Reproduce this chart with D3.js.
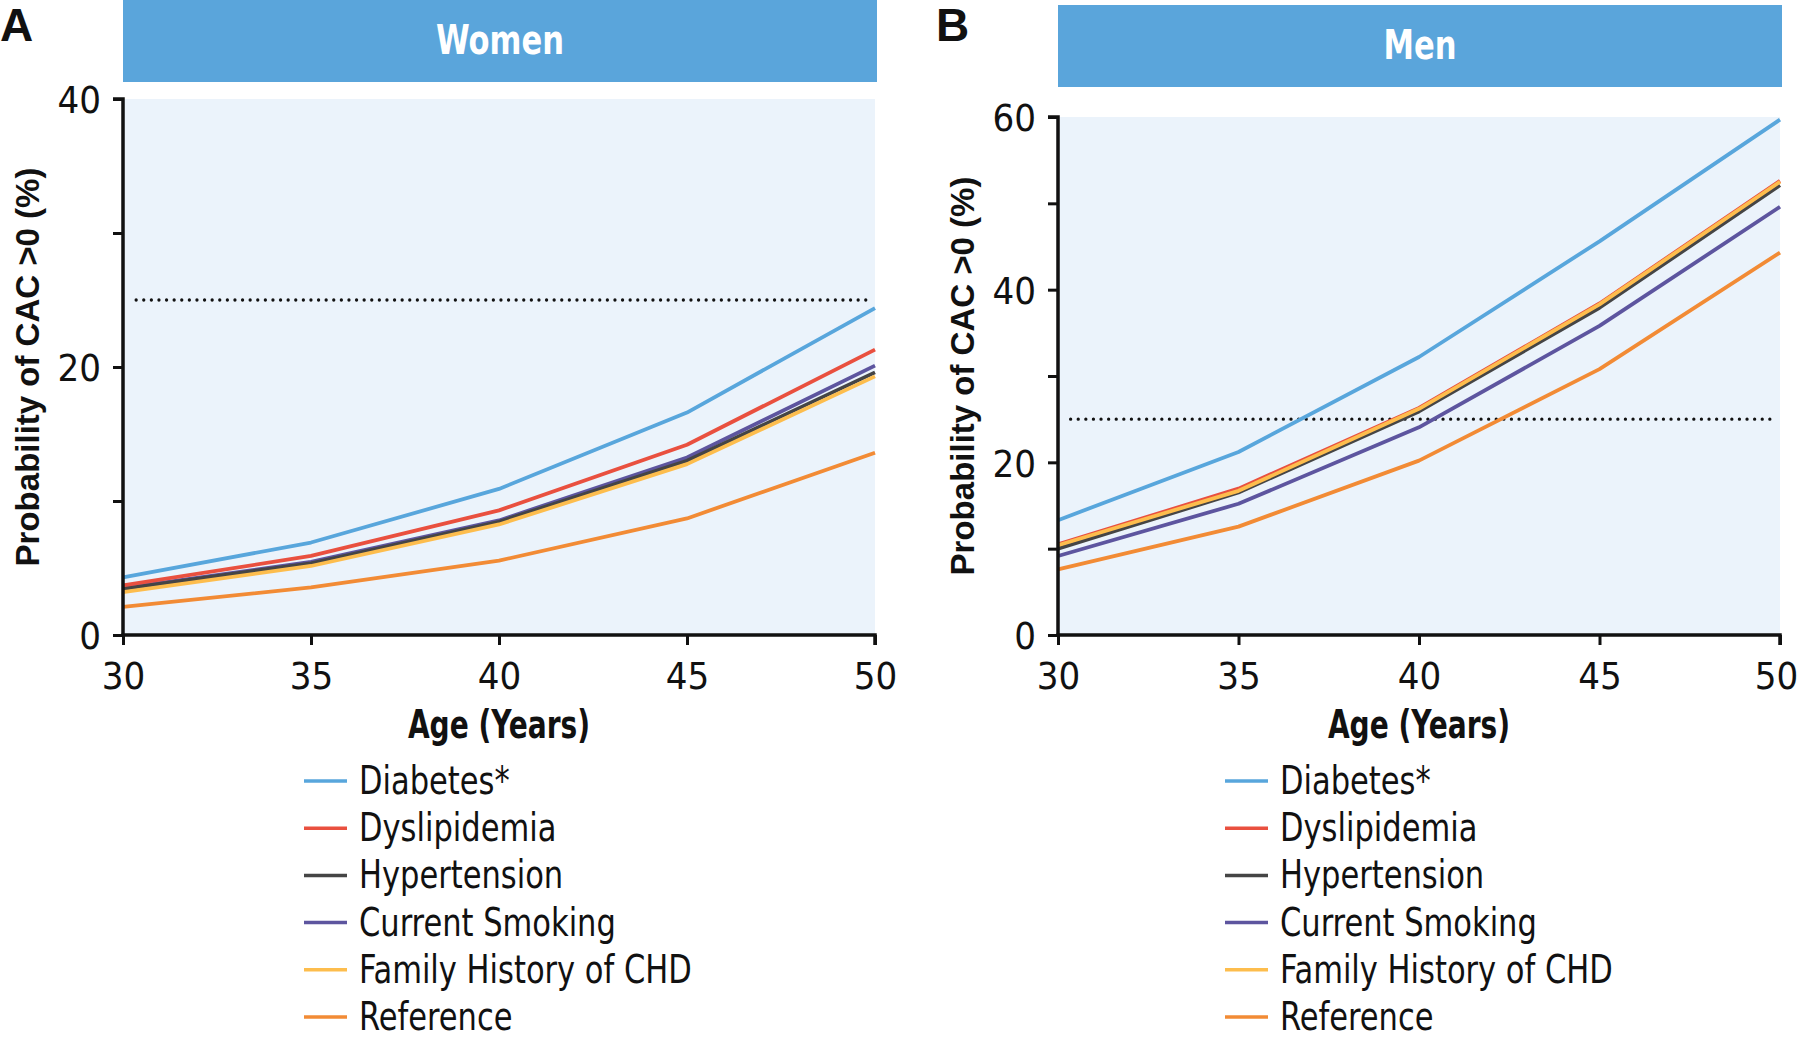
<!DOCTYPE html>
<html><head><meta charset="utf-8">
<script src="https://cdn.jsdelivr.net/npm/d3@7"></script>
<style>
html,body{margin:0;padding:0;background:#fff;}
svg{display:block;}
.cond{font-family:"DejaVu Sans Condensed","DejaVu Sans",sans-serif;font-stretch:condensed;}
</style></head>
<body>
<svg id="chart" width="1800" height="1042"></svg>
<script>
const ages = [30, 35, 40, 45, 50];
const seriesNames = ["Diabetes*", "Dyslipidemia", "Hypertension", "Current Smoking", "Family History of CHD", "Reference"];
const seriesColors = ["#58a6dc", "#e9503f", "#454545", "#5d559f", "#fdbd4d", "#f28b35"];

const womenDiabetes     = [4.3, 6.9, 10.9, 16.6, 24.4];
const womenDyslipidemia = [3.7, 5.9, 9.3, 14.2, 21.3];
const womenHypertension = [3.45, 5.35, 8.45, 13.0, 19.6];
const womenSmoking      = [3.5, 5.45, 8.55, 13.25, 20.1];
const womenFamily       = [3.2, 5.15, 8.25, 12.75, 19.3];
const womenReference    = [2.1, 3.55, 5.55, 8.7, 13.6];

const menDiabetes     = [13.3, 21.2, 32.2, 45.6, 59.7];
const menDyslipidemia = [10.5, 16.95, 26.3, 38.4, 52.6];
const menHypertension = [10.0, 16.5, 25.9, 37.9, 52.1];
const menSmoking      = [9.15, 15.2, 24.05, 35.8, 49.6];
const menFamily       = [10.4, 16.7, 26.2, 38.3, 52.5];
const menReference    = [7.6, 12.55, 20.2, 30.8, 44.3];

const womenTicks = [0, 10, 20, 30, 40];
const womenTickLabels = ["0", "", "20", "", "40"];
const menTicks = [0, 10, 20, 30, 40, 50, 60];
const menTickLabels = ["0", "", "20", "", "40", "", "60"];
const xTicks = [30, 35, 40, 45, 50];
const threshold = 25;

const svg = d3.select("#chart");

const panels = [
  {letter:"A", title:"Women", left:123, right:875, top:99, bottom:635, ymax:40,
   barX0:123, barX1:877, barY0:0, barY1:82, letterX:0, letterY:41,
   ticks:womenTicks, tickLabels:womenTickLabels,
   data:[womenDiabetes, womenDyslipidemia, womenHypertension, womenSmoking, womenFamily, womenReference],
   legendX:304},
  {letter:"B", title:"Men", left:1058, right:1780, top:117, bottom:635, ymax:60,
   barX0:1058, barX1:1782, barY0:5, barY1:87, letterX:936, letterY:41,
   ticks:menTicks, tickLabels:menTickLabels,
   data:[menDiabetes, menDyslipidemia, menHypertension, menSmoking, menFamily, menReference],
   legendX:1225}
];

// draw order (bottom to top)
const drawOrder = [5, 3, 2, 1, 4, 0];

function squeezedText(parent, x, y, str, size, sx, anchor, weight) {
  const g = parent.append("g").attr("transform", `translate(${x},${y}) scale(${sx},1)`);
  return g.append("text").attr("class", "cond").attr("x", 0).attr("y", 0)
    .attr("text-anchor", anchor).attr("font-weight", weight).attr("font-size", size)
    .attr("fill", "#111").text(str);
}

panels.forEach(p => {
  const g = svg.append("g");
  const x = d3.scaleLinear().domain([30, 50]).range([p.left, p.right]);
  const y = d3.scaleLinear().domain([0, p.ymax]).range([p.bottom, p.top]);

  // panel letter
  g.append("text").attr("x", p.letterX).attr("y", p.letterY)
    .attr("font-family", "Liberation Sans, Arial, sans-serif").attr("font-weight", "bold")
    .attr("font-size", 46).attr("fill", "#111").text(p.letter);

  // title bar
  g.append("rect").attr("x", p.barX0).attr("y", p.barY0)
    .attr("width", p.barX1 - p.barX0).attr("height", p.barY1 - p.barY0).attr("fill", "#5aa5db");
  squeezedText(g, (p.barX0 + p.barX1) / 2, (p.barY0 + p.barY1) / 2 + 13, p.title, 40, 0.85, "middle", "bold")
    .attr("fill", "#fff");

  // plot background
  g.append("rect").attr("x", p.left).attr("y", p.top)
    .attr("width", p.right - p.left).attr("height", p.bottom - p.top).attr("fill", "#ebf3fb");

  // threshold dotted line
  g.append("line").attr("x1", x(30.35)).attr("x2", x(49.8)).attr("y1", y(threshold)).attr("y2", y(threshold))
    .attr("stroke", "#111").attr("stroke-width", 3.3).attr("stroke-dasharray", "0,7.6")
    .attr("stroke-linecap", "round");

  // lines
  const line = d3.line().x((d, i) => x(ages[i])).y(d => y(d));
  drawOrder.forEach(k => {
    g.append("path").datum(p.data[k]).attr("d", line).attr("fill", "none")
      .attr("stroke", seriesColors[k]).attr("stroke-width", 3.8).attr("stroke-linejoin", "round");
  });

  // y axis
  const yAxis = d3.axisLeft(y).tickValues(p.ticks).tickSize(10).tickPadding(12)
    .tickFormat((d, i) => p.tickLabels[i]);
  const ya = g.append("g").attr("transform", `translate(${p.left},0)`).call(yAxis);
  ya.select(".domain").attr("stroke", "#111").attr("stroke-width", 3.5).attr("d", `M-10,${p.top}H0V${p.bottom + 1.5}`);
  ya.selectAll(".tick line").attr("stroke", "#111").attr("stroke-width", 3);
  ya.selectAll(".tick text").attr("class", "cond").attr("font-size", 38).attr("fill", "#111")
    .attr("dy", "0.36em");

  // x axis
  const xAxis = d3.axisBottom(x).tickValues(xTicks).tickSize(10).tickPadding(17).tickFormat(d3.format("d"));
  const xa = g.append("g").attr("transform", `translate(0,${p.bottom})`).call(xAxis);
  xa.select(".domain").attr("stroke", "#111").attr("stroke-width", 3.5).attr("d", `M${p.left - 1.5},0H${p.right}V10`);
  xa.selectAll(".tick line").attr("stroke", "#111").attr("stroke-width", 3);
  xa.selectAll(".tick text").attr("class", "cond").attr("font-size", 38).attr("fill", "#111")
    .attr("dx", d => (d === 50 && p.right > 1750) ? -4 : 0);

  // axis titles
  squeezedText(g, (p.left + p.right) / 2, 738, "Age (Years)", 39, 0.8, "middle", "bold");
  g.append("text").attr("transform", `translate(${p.left - 84},${(p.top + p.bottom) / 2}) rotate(-90)`)
    .attr("text-anchor", "middle").attr("font-family", "Liberation Sans, Arial, sans-serif")
    .attr("font-weight", "bold").attr("font-size", 33).attr("fill", "#111")
    .text("Probability of CAC >0 (%)");

  // legend
  const lg = g.append("g");
  seriesNames.forEach((name, i) => {
    const cy = 781 + i * 47.2;
    lg.append("line").attr("x1", p.legendX).attr("x2", p.legendX + 43).attr("y1", cy).attr("y2", cy)
      .attr("stroke", seriesColors[i]).attr("stroke-width", 3.5);
    squeezedText(lg, p.legendX + 55, cy + 13, name, 39, 0.87, "start", "normal");
  });
});
</script>
</body></html>
